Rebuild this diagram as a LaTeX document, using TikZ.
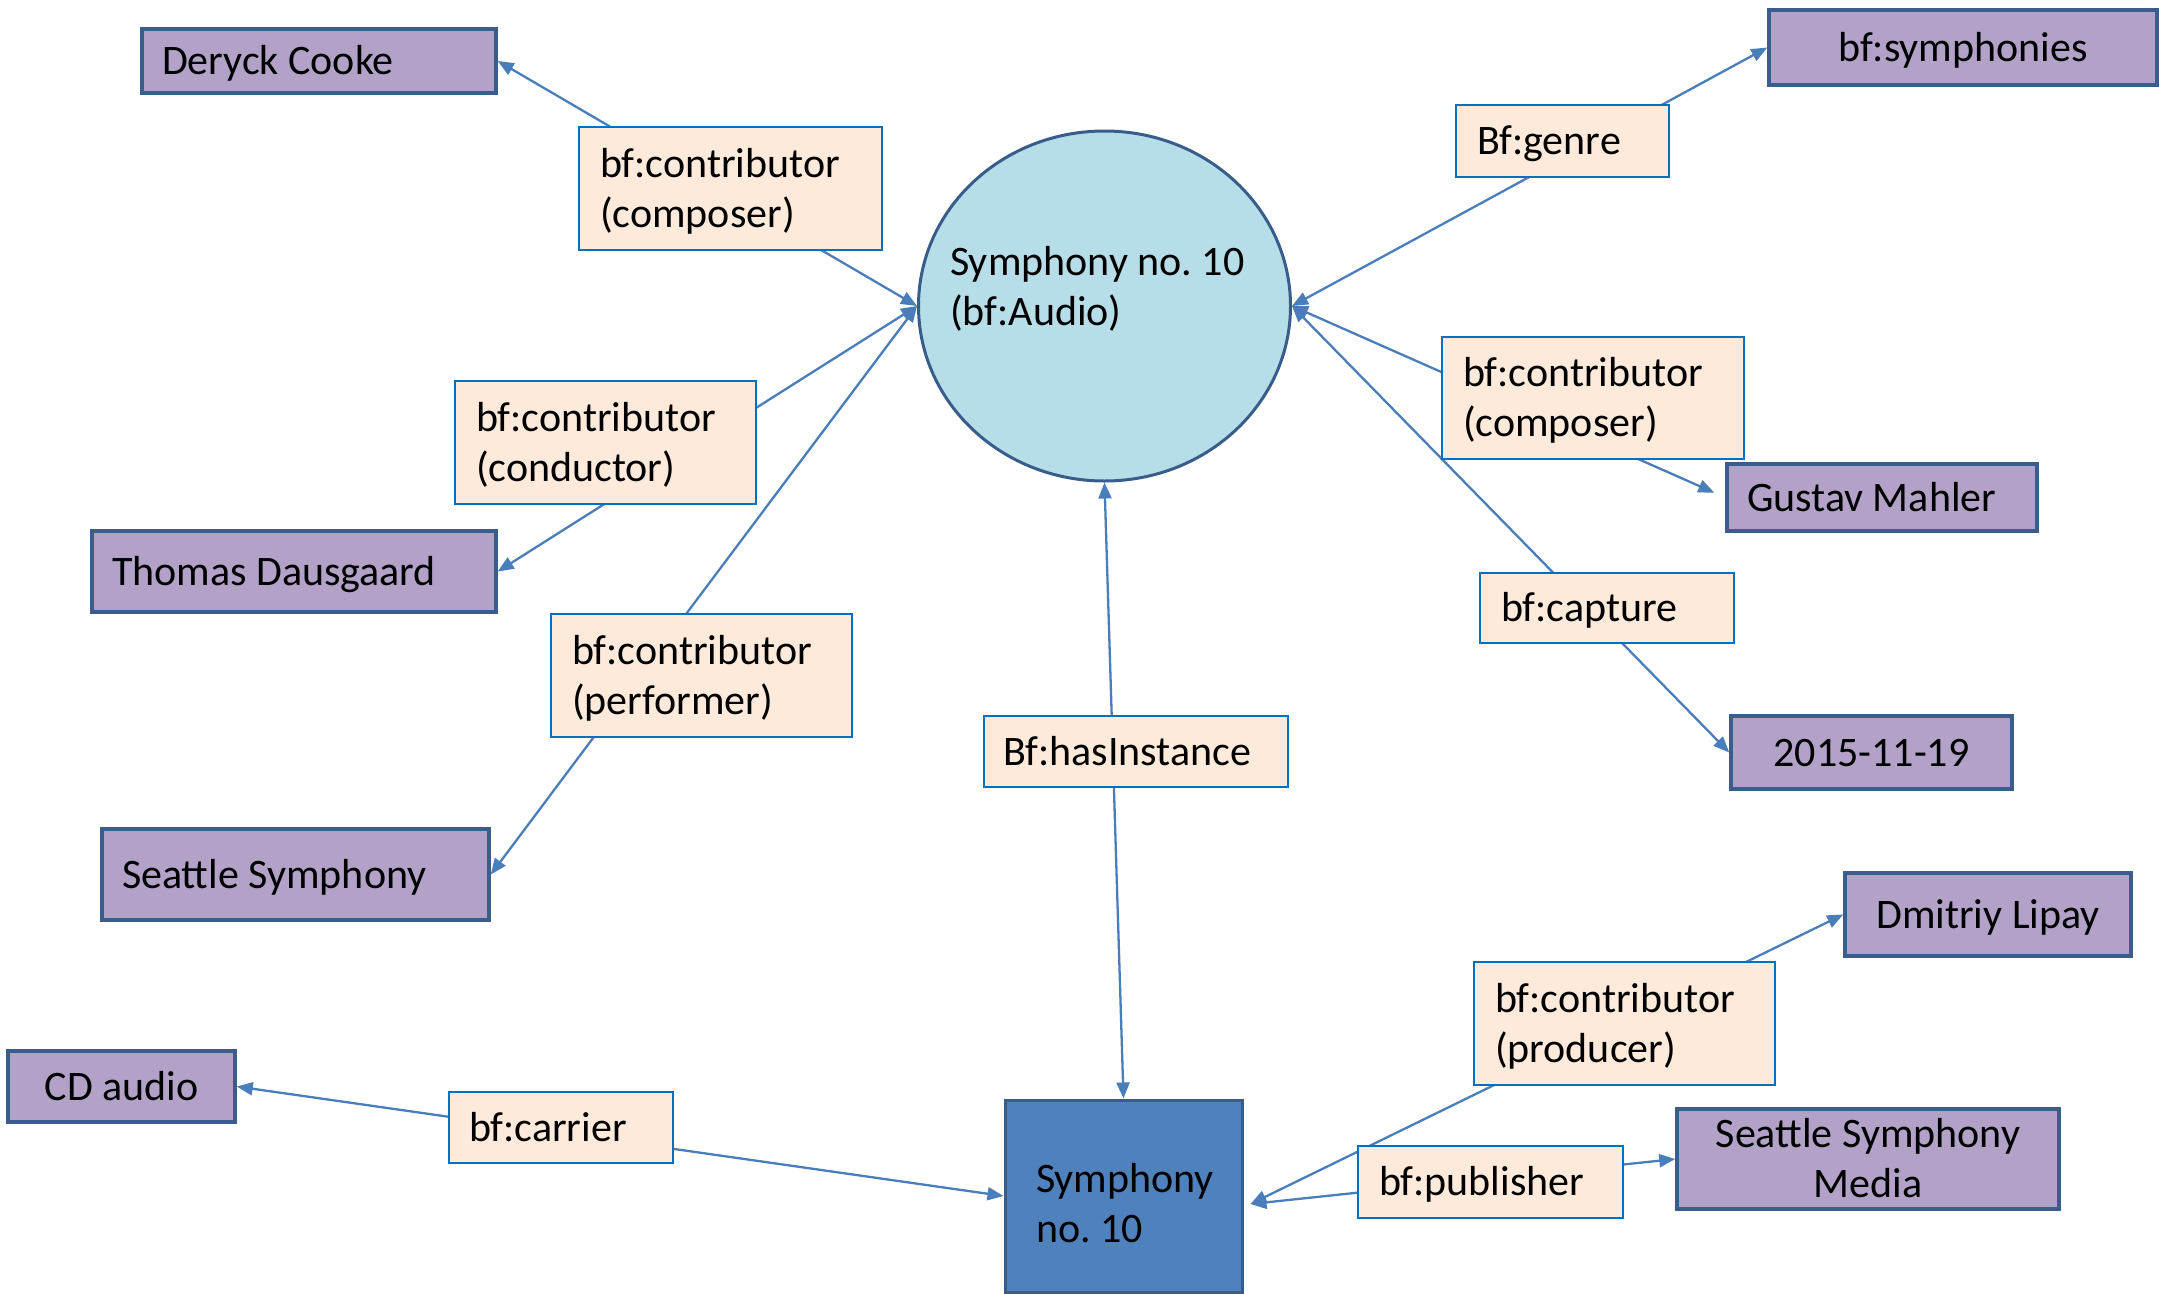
\documentclass[tikz,border=0pt]{standalone}
\usepackage{fontspec}
\setmainfont{Carlito}
\usetikzlibrary{arrows.meta,shapes.geometric}
\definecolor{entfill}{HTML}{B2A2C7}
\definecolor{entborder}{HTML}{3A5D8C}
\definecolor{relfill}{HTML}{FDEADA}
\definecolor{relborder}{HTML}{0070C0}
\definecolor{audfill}{HTML}{B7DEE8}
\definecolor{audborder}{HTML}{385D8A}
\definecolor{instfill}{HTML}{4F81BD}
\definecolor{instborder}{HTML}{385D8A}
\definecolor{arrowc}{HTML}{4A7EBB}
\pgfdeclarelayer{bg}
\pgfsetlayers{bg,main}
\newcommand\lab{\fontsize{42}{50}\selectfont\frenchspacing}
\newcommand\myTopStrut[1]{\rule{0pt}{#1}}
\newcommand\myBotStrut{\rule[-11pt]{0pt}{11pt}}
\begin{document}
\begin{tikzpicture}[x=1pt,y=-1pt,
  >={Triangle[length=16pt,width=13pt]},
  txt/.style={font=\lab, execute at begin node={\myTopStrut{38pt}}, execute at end node={\myBotStrut}},
  ent/.style={txt, draw=entborder, fill=entfill, line width=3.5pt, inner xsep=20pt, inner ysep=0pt},
  rel/.style={txt, draw=relborder, fill=relfill, line width=2pt, inner xsep=21pt, inner ysep=0pt, align=flush left},
  conn/.style={draw=arrowc, line width=2.3pt, <->}]
\useasboundingbox (0,0) rectangle (2159,1293);

% central work
\node[ellipse, draw=audborder, fill=audfill, line width=3pt, minimum width=372pt, minimum height=350pt, inner sep=0pt] (aud) at (1104.5,306) {};
\node[anchor=west, align=flush left, font=\lab, inner sep=0pt] (audtext) at (950,288.5) {Symphony no. 10\\(bf:Audio)};

% instance
\node[draw=instborder, fill=instfill, line width=3pt, text width=201pt, inner xsep=18pt, inner ysep=0pt, minimum height=192pt, align=flush left, font=\lab,
  execute at begin node={\leftskip=13pt\myTopStrut{53pt}}, execute at end node={\myBotStrut}] (inst) at (1123.5,1196) {Symphony\\no. 10};
\coordinate (instE) at ([shift={(7,8)}]inst.east);

% entities
\node[ent, align=flush left, text width=314pt, minimum height=64pt] (deryck) at (319,61) {Deryck Cooke};
\node[ent, align=flush left, text width=364pt, minimum height=81pt] (thomas) at (294,571.5) {Thomas Dausgaard};
\node[ent, align=flush left, text width=347pt, minimum height=91pt] (seattle) at (295.5,874.5) {Seattle Symphony};
\node[ent, align=flush center, minimum width=227pt, minimum height=71pt] (cd) at (121.5,1086.5) {CD audio};
\node[ent, align=flush center, minimum width=388pt, minimum height=75pt] (symph) at (1963,47.5) {bf:symphonies};
\node[ent, align=flush left, text width=270pt, minimum height=67pt] (gustav) at (1882,497.5) {Gustav Mahler};
\node[ent, align=flush center, minimum width=281pt, minimum height=73pt] (date) at (1871.5,752.5) {2015-11-19};
\node[ent, align=flush center, minimum width=286pt, minimum height=83pt] (dmitriy) at (1988,914.5) {Dmitriy Lipay};
\node[ent, align=flush center, text width=342pt, minimum height=100pt] (media) at (1868,1159) {Seattle Symphony\\Media};

% relations
\node[rel, text width=261pt, minimum height=123pt] (compL) at (730.5,188.5) {bf:contributor\\(composer)};
\node[rel, text width=259pt, minimum height=123pt] (cond) at (605.5,442.5) {bf:contributor\\(conductor)};
\node[rel, text width=259pt, minimum height=123pt] (perf) at (701.5,675.5) {bf:contributor\\(performer)};
\node[rel, text width=171pt, minimum height=72pt] (genre) at (1562.5,141) {Bf:genre};
\node[rel, text width=260pt, minimum height=122pt] (compR) at (1593,398) {bf:contributor\\(composer)};
\node[rel, text width=212pt, minimum height=70pt] (capture) at (1607,608) {bf:capture};
\node[rel, inner xsep=19pt, text width=266pt, minimum height=71pt] (hasinst) at (1136,751.5) {Bf:hasInstance};
\node[rel, inner xsep=20pt, text width=184pt, minimum height=71pt] (carrier) at (561,1127.5) {bf:carrier};
\node[rel, text width=259pt, minimum height=123pt] (producer) at (1624.5,1023.5) {bf:contributor\\(producer)};
\node[rel, text width=223pt, minimum height=72pt] (publisher) at (1490.5,1182) {bf:publisher};

\begin{pgfonlayer}{bg}
\draw[conn] (aud.west) -- (deryck.east);
\draw[conn] (aud.west) -- (thomas.east);
\draw[conn] (aud.west) -- (seattle.east);
\draw[conn] (aud.east) -- (symph.west);
\draw[conn, shorten >=12pt] (aud.east) -- (gustav.west);
\draw[conn] (aud.east) -- (date.west);
\draw[conn] (aud.south) -- (inst.north);
\draw[conn] (inst.west) -- (cd.east);
\draw[conn] (instE) -- (dmitriy.west);
\draw[conn] (instE) -- (media.west);
\end{pgfonlayer}
\end{tikzpicture}
\end{document}
